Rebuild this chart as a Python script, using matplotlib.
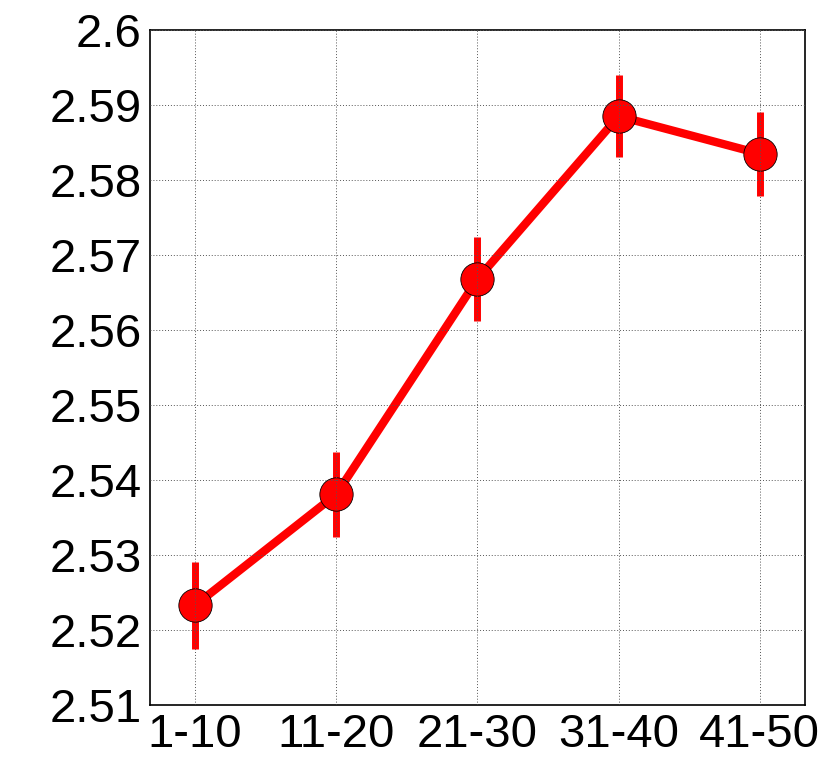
import matplotlib
matplotlib.use("Agg")
import matplotlib.pyplot as plt

categories = ["1-10", "11-20", "21-30", "31-40", "41-50"]
values = [2.5233, 2.5381, 2.5668, 2.5885, 2.5835]
errors = [0.0058, 0.0057, 0.0056, 0.0055, 0.0056]
yticks = [2.51, 2.52, 2.53, 2.54, 2.55, 2.56, 2.57, 2.58, 2.59, 2.6]
ytick_labels = ["2.51", "2.52", "2.53", "2.54", "2.55", "2.56", "2.57", "2.58", "2.59", "2.6"]

plt.rcParams['font.family'] = ['Liberation Sans', 'DejaVu Sans']

fig = plt.figure(figsize=(8.3, 7.67), dpi=100)
ax = fig.add_axes([0.1807, 0.0808, 0.7892, 0.8801])

x = list(range(len(categories)))
ax.errorbar(x, values, yerr=errors, color='red', linewidth=6, elinewidth=5,
            marker='o', markersize=24, markerfacecolor='red',
            markeredgecolor='black', markeredgewidth=0.6, capsize=0, zorder=2)

ax.set_xlim(-0.32, 4.32)
ax.set_ylim(2.51, 2.6)
ax.set_xticks(x)
ax.set_xticklabels(categories)
ax.set_yticks(yticks)
ax.set_yticklabels(ytick_labels)
ax.tick_params(axis='both', labelsize=34, length=0, pad=6)
ax.set_axisbelow(False)
ax.grid(True, linestyle=(0, (1, 2)), color='#555555', linewidth=0.7, zorder=3)
for s in ax.spines.values():
    s.set_linewidth(1.2)

fig.savefig("out.png", dpi=100)
